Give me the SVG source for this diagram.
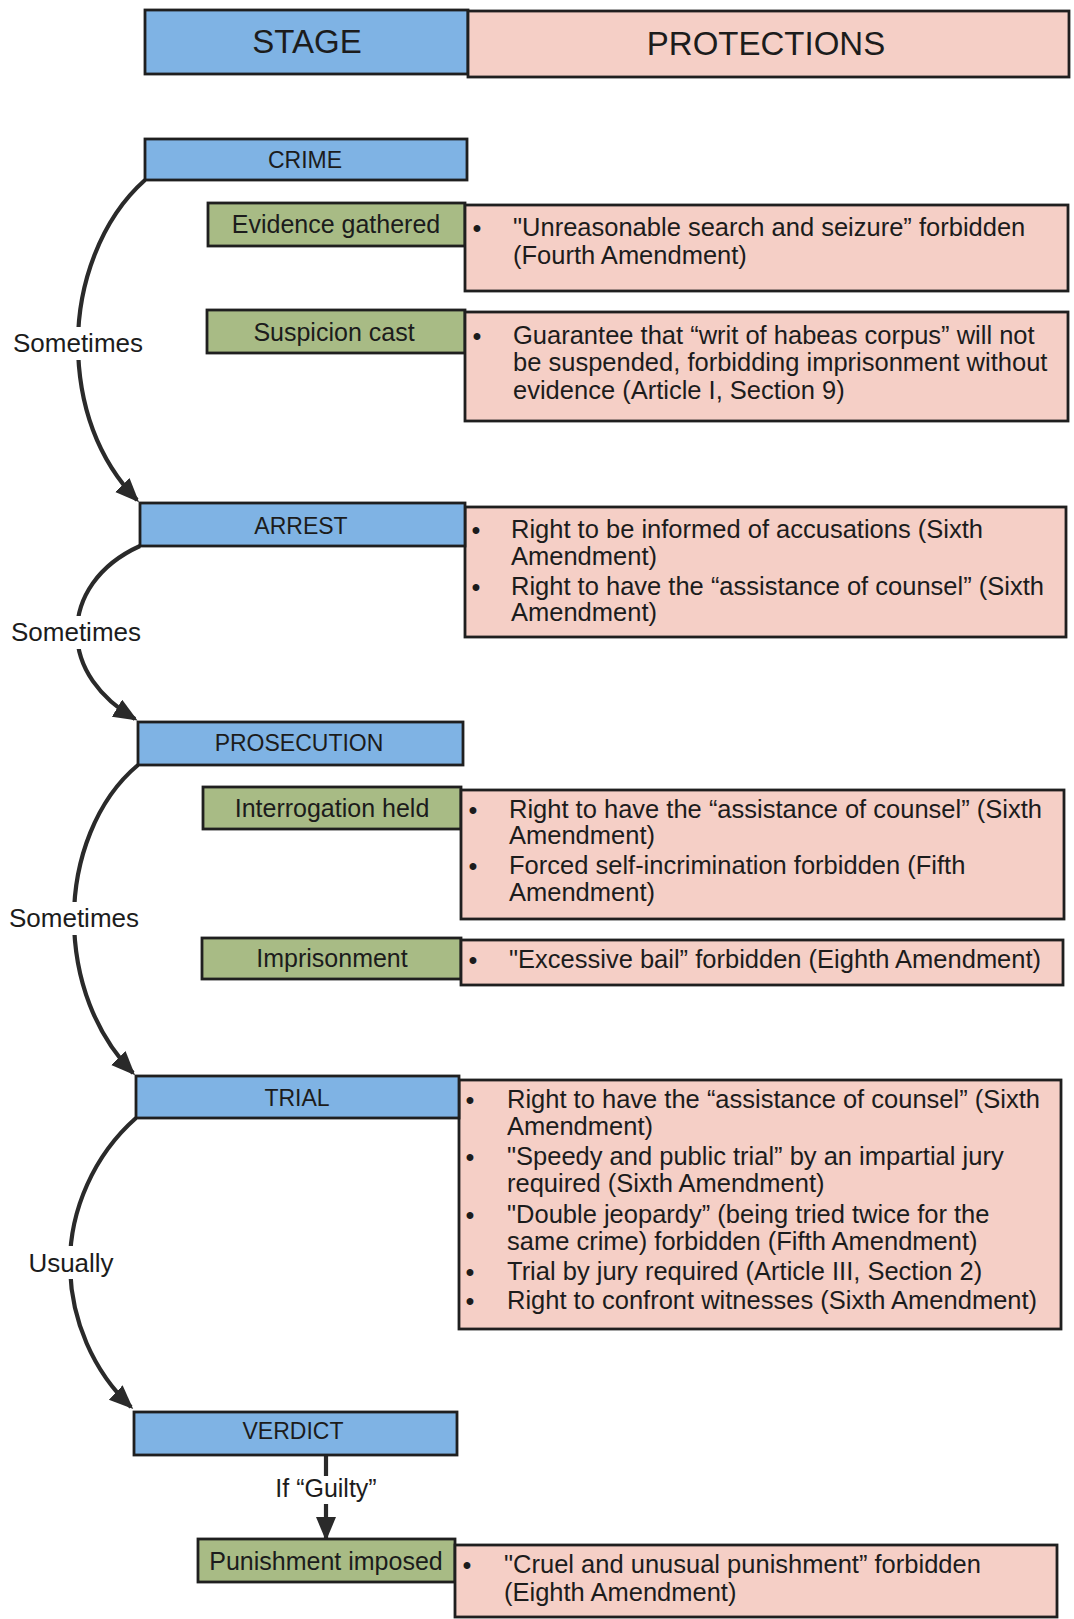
<svg xmlns="http://www.w3.org/2000/svg" width="1074" height="1619" viewBox="0 0 1074 1619">
<defs>
<style>
text{font-family:"Liberation Sans",Arial,sans-serif;fill:#1c1c1c}
.stage{fill:#7fb3e4;stroke:#1f1f1f;stroke-width:2.8}
.sub{fill:#a8bb85;stroke:#1f1f1f;stroke-width:2.8}
.prot{fill:#f5cfc6;stroke:#1f1f1f;stroke-width:2.8}
.st{font-size:23px;text-anchor:middle}
.sb{font-size:25px;text-anchor:middle}
.tx{font-size:25.5px}
.bu{font-size:24px;font-weight:bold;text-anchor:middle}
.lab{font-size:26px;text-anchor:middle}
.hd{font-size:33px;text-anchor:middle}
.conn{fill:none;stroke:#2a2a2a;stroke-width:4.2;marker-end:url(#ah)}
.bg{fill:#ffffff}
</style>
<marker id="ah" markerUnits="userSpaceOnUse" markerWidth="26" markerHeight="22" refX="21" refY="10" orient="auto">
<path d="M0,0 L24,10 L0,20 Z" fill="#2a2a2a"/>
</marker>
</defs>
<rect width="1074" height="1619" fill="#ffffff"/>

<g id="header">
<rect class="stage" x="145" y="10" width="323" height="64"/>
<rect class="prot" x="468" y="11" width="601" height="66"/>
<text class="hd" x="307" y="53">STAGE</text>
<text class="hd" x="766" y="55">PROTECTIONS</text>
</g>

<g id="connectors">
<path class="conn" d="M145,180 C100,220 78,285 78,343 C78,405 98,460 137,500"/>
<path class="conn" d="M140,546 C98,565 77,598 77,632 C77,668 100,698 135,719"/>
<path class="conn" d="M138,765 C96,800 74,860 74,918 C74,980 96,1035 133,1073"/>
<path class="conn" d="M136,1118 C94,1155 70,1210 70,1263 C70,1320 94,1372 131,1407"/>
<path class="conn" d="M326,1455 L326,1538"/>
<rect class="bg" x="6" y="327" width="144" height="33"/>
<rect class="bg" x="4" y="616" width="144" height="33"/>
<rect class="bg" x="2" y="902" width="144" height="33"/>
<rect class="bg" x="18" y="1246" width="106" height="33"/>
<rect class="bg" x="270" y="1476" width="112" height="28"/>
<text class="lab" x="78" y="352">Sometimes</text>
<text class="lab" x="76" y="641">Sometimes</text>
<text class="lab" x="74" y="927">Sometimes</text>
<text class="lab" x="71" y="1272">Usually</text>
<text class="sb" x="326" y="1497">If “Guilty”</text>
</g>

<g id="crime">
<rect class="stage" x="145" y="139" width="322" height="41"/>
<text class="st" x="305" y="168">CRIME</text>
</g>

<g id="evidence">
<rect class="sub" x="208" y="203" width="257" height="43"/>
<text class="sb" x="336" y="233">Evidence gathered</text>
<rect class="prot" x="465" y="205" width="603" height="86"/>
<text class="bu" x="477" y="236">•</text>
<text class="tx" x="513" y="236">"Unreasonable search and seizure” forbidden</text>
<text class="tx" x="513" y="264">(Fourth Amendment)</text>
</g>

<g id="suspicion">
<rect class="sub" x="207" y="310" width="258" height="43"/>
<text class="sb" x="334" y="341">Suspicion cast</text>
<rect class="prot" x="465" y="312" width="603" height="109"/>
<text class="bu" x="477" y="344">•</text>
<text class="tx" x="513" y="344">Guarantee that “writ of habeas corpus” will not</text>
<text class="tx" x="513" y="371">be suspended, forbidding imprisonment without</text>
<text class="tx" x="513" y="399">evidence (Article I, Section 9)</text>
</g>

<g id="arrest">
<rect class="prot" x="465" y="507" width="601" height="130"/>
<rect class="stage" x="140" y="503" width="325" height="43"/>
<text class="st" x="301" y="534">ARREST</text>
<text class="bu" x="476" y="538">•</text>
<text class="tx" x="511" y="538">Right to be informed of accusations (Sixth</text>
<text class="tx" x="511" y="565">Amendment)</text>
<text class="bu" x="476" y="595">•</text>
<text class="tx" x="511" y="595">Right to have the “assistance of counsel” (Sixth</text>
<text class="tx" x="511" y="621">Amendment)</text>
</g>

<g id="prosecution">
<rect class="stage" x="138" y="722" width="325" height="43"/>
<text class="st" x="299" y="751">PROSECUTION</text>
</g>

<g id="interrogation">
<rect class="sub" x="203" y="787" width="258" height="42"/>
<text class="sb" x="332" y="817">Interrogation held</text>
<rect class="prot" x="461" y="790" width="603" height="129"/>
<text class="bu" x="473" y="818">•</text>
<text class="tx" x="509" y="818">Right to have the “assistance of counsel” (Sixth</text>
<text class="tx" x="509" y="844">Amendment)</text>
<text class="bu" x="473" y="874">•</text>
<text class="tx" x="509" y="874">Forced self-incrimination forbidden (Fifth</text>
<text class="tx" x="509" y="901">Amendment)</text>
</g>

<g id="imprisonment">
<rect class="sub" x="202" y="938" width="259" height="41"/>
<text class="sb" x="332" y="967">Imprisonment</text>
<rect class="prot" x="461" y="940" width="602" height="45"/>
<text class="bu" x="473" y="968">•</text>
<text class="tx" x="509" y="968">"Excessive bail” forbidden (Eighth Amendment)</text>
</g>

<g id="trial">
<rect class="prot" x="459" y="1080" width="602" height="249"/>
<rect class="stage" x="136" y="1076" width="323" height="42"/>
<text class="st" x="297" y="1106">TRIAL</text>
<text class="bu" x="470" y="1108">•</text>
<text class="tx" x="507" y="1108">Right to have the “assistance of counsel” (Sixth</text>
<text class="tx" x="507" y="1135">Amendment)</text>
<text class="bu" x="470" y="1165">•</text>
<text class="tx" x="507" y="1165">"Speedy and public trial” by an impartial jury</text>
<text class="tx" x="507" y="1192">required (Sixth Amendment)</text>
<text class="bu" x="470" y="1223">•</text>
<text class="tx" x="507" y="1223">"Double jeopardy” (being tried twice for the</text>
<text class="tx" x="507" y="1250">same crime) forbidden (Fifth Amendment)</text>
<text class="bu" x="470" y="1280">•</text>
<text class="tx" x="507" y="1280">Trial by jury required (Article III, Section 2)</text>
<text class="bu" x="470" y="1309">•</text>
<text class="tx" x="507" y="1309">Right to confront witnesses (Sixth Amendment)</text>
</g>

<g id="verdict">
<rect class="stage" x="134" y="1412" width="323" height="43"/>
<text class="st" x="293" y="1439">VERDICT</text>
</g>

<g id="punishment">
<rect class="sub" x="198" y="1539" width="257" height="43"/>
<text class="sb" x="326" y="1570">Punishment imposed</text>
<rect class="prot" x="455" y="1545" width="602" height="72"/>
<text class="bu" x="467" y="1573">•</text>
<text class="tx" x="504" y="1573">"Cruel and unusual punishment” forbidden</text>
<text class="tx" x="504" y="1601">(Eighth Amendment)</text>
</g>
</svg>
